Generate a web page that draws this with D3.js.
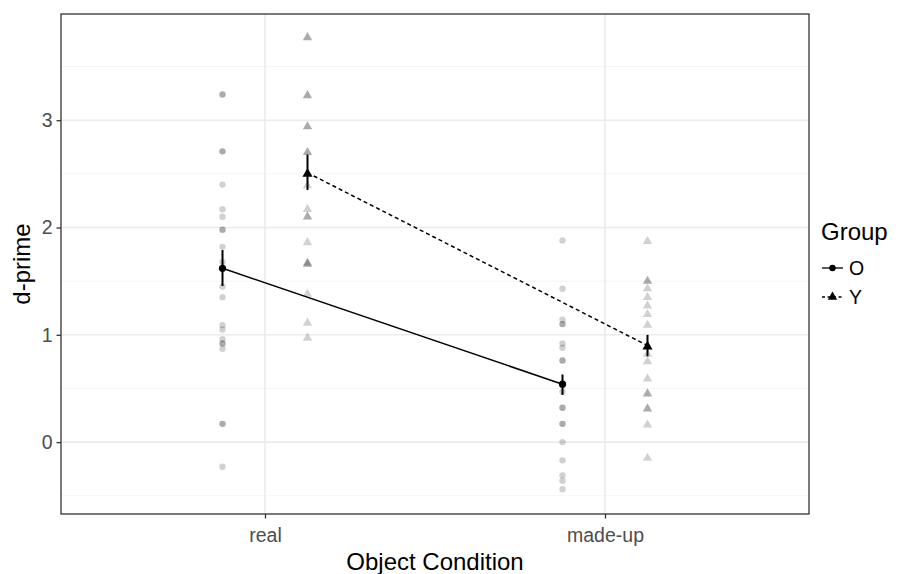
<!DOCTYPE html>
<html>
<head>
<meta charset="utf-8">
<script src="https://cdn.jsdelivr.net/npm/d3@7"></script>
<style>
  body { margin: 0; background: #fff; }
  text { font-family: "Liberation Sans", Arial, sans-serif; }
</style>
</head>
<body>
<svg id="chart" width="919" height="574"></svg>
<script>
// categories and groups
var conditions = ["real", "made-up"]
var groups = ["O", "Y"]

// individual d-prime values, duplicates where dots look darker
var oReal = [3.24, 3.24, 2.71, 2.71, 2.40, 2.17, 2.10, 1.98, 1.98, 1.82, 1.68, 1.45, 1.35, 1.09, 1.05, 0.96, 0.92, 0.92, 0.87, 0.17, 0.17, -0.23]
var yReal = [3.78, 3.78, 3.24, 3.24, 2.95, 2.95, 2.71, 2.71, 2.40, 2.18, 2.11, 2.11, 1.87, 1.68, 1.67, 1.67, 1.39, 1.12, 0.98]
var oMade = [1.88, 1.43, 1.14, 1.10, 1.10, 0.92, 0.88, 0.76, 0.76, 0.47, 0.32, 0.32, 0.17, 0.17, 0.00, -0.17, -0.31, -0.36, -0.44]
var yMade = [1.88, 1.51, 1.51, 1.44, 1.36, 1.28, 1.20, 1.10, 0.83, 0.76, 0.60, 0.46, 0.46, 0.32, 0.32, 0.17, -0.14]

// group means and error bar ends, per condition
var oMean = [1.62, 0.54]
var oLow = [1.455, 0.44]
var oHigh = [1.79, 0.63]
var yMean = [2.51, 0.90]
var yLow = [2.35, 0.80]
var yHigh = [2.68, 1.00]

var yTicks = [0, 1, 2, 3]
var yMinor = [-0.5, 0.5, 1.5, 2.5, 3.5]

var svg = d3.select("#chart")
var margin = { top: 14, right: 110, bottom: 60, left: 61 }
var width = 919, height = 574
var x0 = margin.left, x1 = width - margin.right, y0 = margin.top, y1 = height - margin.bottom

var x = d3.scalePoint().domain(conditions).range([x0, x1]).padding(0.6)
var dodge = x.step() * 0.125
var y = d3.scaleLinear().domain([-0.67, 3.99]).range([y1, y0])

var groupX = function (cond, g) {
    return x(cond) + (g == "O" ? -dodge : dodge)
}

// grid
var grid = svg.append("g")
grid.selectAll(".minor").data(yMinor).join("line")
    .attr("x1", x0).attr("x2", x1)
    .attr("y1", d => y(d)).attr("y2", d => y(d))
    .attr("stroke", "#f2f2f2").attr("stroke-width", 0.8)
grid.selectAll(".major").data(yTicks).join("line")
    .attr("x1", x0).attr("x2", x1)
    .attr("y1", d => y(d)).attr("y2", d => y(d))
    .attr("stroke", "#ebebeb").attr("stroke-width", 1.6)
grid.selectAll(".vmajor").data(conditions).join("line")
    .attr("x1", d => x(d)).attr("x2", d => x(d))
    .attr("y1", y0).attr("y2", y1)
    .attr("stroke", "#ebebeb").attr("stroke-width", 1.6)

// raw points
var raw = []
oReal.forEach(v => raw.push({ cond: "real", g: "O", v: v }))
yReal.forEach(v => raw.push({ cond: "real", g: "Y", v: v }))
oMade.forEach(v => raw.push({ cond: "made-up", g: "O", v: v }))
yMade.forEach(v => raw.push({ cond: "made-up", g: "Y", v: v }))

var tri = d3.symbol().type(d3.symbolTriangle).size(38)
var triBig = d3.symbol().type(d3.symbolTriangle).size(44)

var pts = svg.append("g")
pts.selectAll("circle").data(raw.filter(d => d.g == "O")).join("circle")
    .attr("cx", d => groupX(d.cond, d.g))
    .attr("cy", d => y(d.v))
    .attr("r", 3.2)
    .attr("fill", "#000").attr("fill-opacity", 0.18)
pts.selectAll("path").data(raw.filter(d => d.g == "Y")).join("path")
    .attr("d", tri)
    .attr("transform", d => `translate(${groupX(d.cond, d.g)},${y(d.v) + 1})`)
    .attr("fill", "#000").attr("fill-opacity", 0.18)

// means, lines, error bars
var summary = [
    { g: "O", mean: oMean, low: oLow, high: oHigh, dash: null },
    { g: "Y", mean: yMean, low: yLow, high: yHigh, dash: "4,3" }
]
var line = d3.line().x(d => d[0]).y(d => d[1])
summary.forEach(function (s) {
    var coords = conditions.map((c, i) => [groupX(c, s.g), y(s.mean[i])])
    svg.append("path").attr("d", line(coords))
        .attr("fill", "none").attr("stroke", "#000").attr("stroke-width", 1.5)
        .attr("stroke-dasharray", s.dash)
    conditions.forEach(function (c, i) {
        svg.append("line")
            .attr("x1", groupX(c, s.g)).attr("x2", groupX(c, s.g))
            .attr("y1", y(s.low[i])).attr("y2", y(s.high[i]))
            .attr("stroke", "#000").attr("stroke-width", 2)
        if (s.g == "O") {
            svg.append("circle").attr("cx", groupX(c, s.g)).attr("cy", y(s.mean[i]))
                .attr("r", 3.6).attr("fill", "#000")
        } else {
            svg.append("path").attr("d", triBig)
                .attr("transform", `translate(${groupX(c, s.g)},${y(s.mean[i]) + 1})`)
                .attr("fill", "#000")
        }
    })
})

// panel border
svg.append("rect").attr("x", x0).attr("y", y0)
    .attr("width", x1 - x0).attr("height", y1 - y0)
    .attr("fill", "none").attr("stroke", "#333").attr("stroke-width", 1.3)

// axes
var xAxis = svg.append("g").attr("transform", `translate(0,${y1})`)
    .call(d3.axisBottom(x).tickSize(4.5))
var yAxis = svg.append("g").attr("transform", `translate(${x0},0)`)
    .call(d3.axisLeft(y).tickValues(yTicks).tickFormat(d3.format("d")).tickSize(4.5).tickPadding(4))
;[xAxis, yAxis].forEach(function (a) {
    a.select(".domain").remove()
    a.selectAll(".tick line").attr("stroke", "#333").attr("stroke-width", 1.3)
    a.selectAll(".tick text").attr("fill", "#4d4d4d").style("font-size", "19.5px")
        .style("font-family", "Liberation Sans, Arial, sans-serif")
})
xAxis.selectAll(".tick text").attr("dy", null).attr("y", 28)

svg.append("text").attr("x", (x0 + x1) / 2).attr("y", 570)
    .attr("text-anchor", "middle").style("font-size", "24px").text("Object Condition")
svg.append("text").attr("transform", `translate(30,${(y0 + y1) / 2}) rotate(-90)`)
    .attr("text-anchor", "middle").style("font-size", "24px").text("d-prime")

// legend
var leg = svg.append("g").attr("transform", "translate(821,0)")
leg.append("text").attr("x", 0).attr("y", 240).style("font-size", "24px").text("Group")
groups.forEach(function (g, i) {
    var cy = 268 + i * 29
    leg.append("line").attr("x1", 1).attr("x2", 22).attr("y1", cy).attr("y2", cy)
        .attr("stroke", "#000").attr("stroke-width", 1.3)
        .attr("stroke-dasharray", g == "Y" ? "3,2.5" : null)
    if (g == "O") {
        leg.append("circle").attr("cx", 11.5).attr("cy", cy).attr("r", 3.2).attr("fill", "#000")
    } else {
        leg.append("path").attr("d", tri).attr("transform", `translate(11.5,${cy})`).attr("fill", "#000")
    }
    leg.append("text").attr("x", 28).attr("y", cy + 7).style("font-size", "19.5px")
        .attr("fill", "#000").text(g)
})
</script>
</body>
</html>
